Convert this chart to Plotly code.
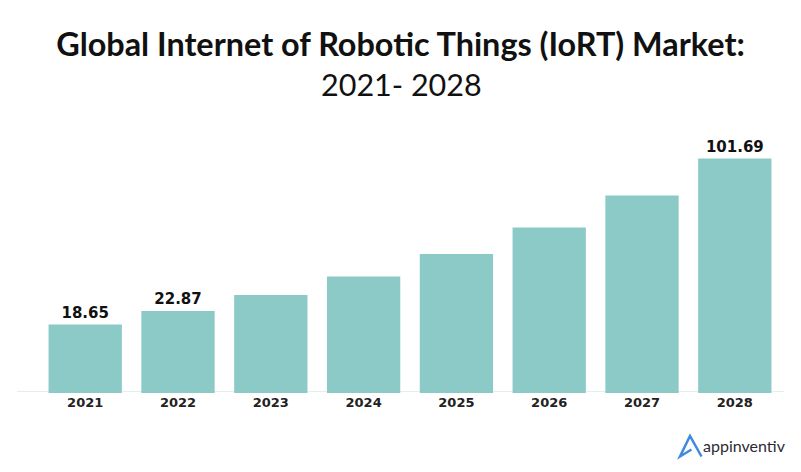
import plotly.graph_objects as go

years = ["2021", "2022", "2023", "2024", "2025", "2026", "2027", "2028"]
# the bars in the picture are not to scale with the printed numbers,
# so heights are read off the bars, on a scale where 2028 = 101.69
bar_heights = [29.7, 35.6, 42.5, 50.5, 60.3, 71.8, 85.6, 101.69]
value_labels = ["18.65", "22.87", "", "", "", "", "", "101.69"]

title_bold = "Global Internet of Robotic Things (IoRT) Market:"
title_plain = "2021- 2028"
brand = "appinventiv"

# the page has an 8px body margin, so the figure starts at (8, 8) in the window
PAGE = 8
W = 801 - PAGE
H = 472 - PAGE
LEFT = 17 - PAGE
RIGHT = 784 - PAGE
TOP = 130 - PAGE
BOTTOM = 393 - PAGE


def px(x):
    return (x - PAGE - LEFT) / (RIGHT - LEFT)


def py(y):
    return (BOTTOM - (y - PAGE)) / (BOTTOM - TOP)


fig = go.Figure()

fig.add_trace(go.Bar(
    x=years,
    y=bar_heights,
    text=value_labels,
    textposition="outside",
    textfont=dict(family="DejaVu Sans", size=15, color="#111111", weight="bold"),
    cliponaxis=False,
    marker=dict(color="#8ccac8", line=dict(width=0)),
    showlegend=False,
))

# baseline, sits just above the foot of the bars
fig.add_shape(type="line", layer="below", xref="paper", yref="paper",
              x0=0, x1=1, y0=py(391.5), y1=py(391.5),
              line=dict(color="#e6eded", width=1))

# logo mark
logo = [(701.5, 456.5), (690, 436), (680, 456.5), (691.5, 449.5)]
path = "M " + " L ".join(f"{px(x)} {py(y)}" for x, y in logo)
fig.add_shape(type="path", xref="paper", yref="paper", path=path,
              line=dict(color="#3f8ae0", width=2.5))

fig.add_annotation(
    text=brand, xref="paper", yref="paper",
    x=px(703), y=py(445), xanchor="left", yanchor="middle", xshift=-2,
    showarrow=False,
    font=dict(family="Lato", size=16, color="#2b2b33"),
)

# second title line, closer to the first than a <br> would put it
fig.add_annotation(
    text=title_plain, xref="paper", yref="paper",
    x=px(401), y=py(84), xanchor="center", yanchor="middle",
    showarrow=False,
    font=dict(family="Lato", size=30.5, color="#111111"),
)

fig.update_layout(
    width=W,
    height=H,
    margin=dict(l=LEFT, r=W - RIGHT, t=TOP, b=H - BOTTOM, autoexpand=False),
    paper_bgcolor="white",
    plot_bgcolor="white",
    bargap=0.21,
    title=dict(
        text=f"<b>{title_bold}</b>",
        x=0.5, xanchor="center", xref="paper",
        y=1 - 37 / H, yanchor="middle",
        font=dict(family="Lato", size=32.4, color="#111111"),
    ),
    xaxis=dict(
        type="category",
        range=[-0.735, 7.53],
        showgrid=False,
        showline=False,
        zeroline=False,
        ticks="",
        ticklabelstandoff=0,
        tickfont=dict(family="DejaVu Sans", size=13, color="#222222", weight="bold"),
    ),
    yaxis=dict(
        visible=False,
        range=[0, 114.05],
    ),
)

fig.write_html("out.html")
